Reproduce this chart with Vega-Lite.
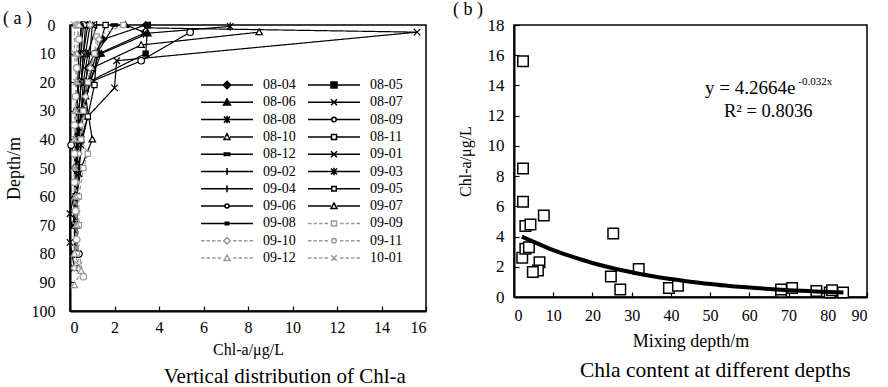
{
  "$schema": "https://vega.github.io/schema/vega-lite/v6.json",
  "background": "white",
  "padding": {"left": 2, "top": 0, "right": 5, "bottom": 0},
  "config": {
    "font": "Liberation Serif",
    "view": {"stroke": "#000", "strokeWidth": 1.5},
    "axis": {"grid": false, "domainColor": "#000", "domainWidth": 2, "tickColor": "#000", "tickWidth": 1.2, "tickSize": -5, "labelOverlap": false, "format": "d",
      "labelColor": "#000", "titleColor": "#000", "labelFont": "Liberation Serif", "titleFont": "Liberation Serif",
      "labelFontSize": 16, "titleFontSize": 17, "titleFontWeight": "normal"},
    "title": {"font": "Liberation Serif", "fontWeight": "normal", "color": "#000"}
  },
  "datasets": {
    "profiles": [
      {"s":"08-04","c":3.4,"d":0},{"s":"08-04","c":1.5,"d":5},{"s":"08-04","c":1.1,"d":10},{"s":"08-04","c":0.8,"d":15},{"s":"08-04","c":0.7,"d":20},{"s":"08-04","c":0.5,"d":30},{"s":"08-04","c":0.35,"d":40},{"s":"08-04","c":0.3,"d":50},{"s":"08-04","c":0.25,"d":60},{"s":"08-04","c":0.2,"d":70},
      {"s":"08-05","c":3.5,"d":0},{"s":"08-05","c":3.4,"d":10},{"s":"08-05","c":0.8,"d":20},{"s":"08-05","c":0.6,"d":30},{"s":"08-05","c":0.4,"d":40},{"s":"08-05","c":0.35,"d":50},{"s":"08-05","c":0.3,"d":60},{"s":"08-05","c":0.25,"d":70},
      {"s":"08-06","c":2.5,"d":0},{"s":"08-06","c":3.5,"d":3},{"s":"08-06","c":1.4,"d":10},{"s":"08-06","c":0.9,"d":20},{"s":"08-06","c":0.6,"d":30},{"s":"08-06","c":0.4,"d":40},{"s":"08-06","c":0.3,"d":50},{"s":"08-06","c":0.3,"d":60},{"s":"08-06","c":0.2,"d":70},
      {"s":"08-07","c":3.4,"d":1},{"s":"08-07","c":15.6,"d":2.5},{"s":"08-07","c":2.1,"d":12.5},{"s":"08-07","c":2.0,"d":22},{"s":"08-07","c":0.8,"d":32},{"s":"08-07","c":0.5,"d":42},{"s":"08-07","c":0.4,"d":52},{"s":"08-07","c":0.0,"d":66},{"s":"08-07","c":0.0,"d":76},{"s":"08-07","c":0.2,"d":85},
      {"s":"08-08","c":7.2,"d":0.5},{"s":"08-08","c":3.3,"d":3},{"s":"08-08","c":1.3,"d":10},{"s":"08-08","c":0.9,"d":20},{"s":"08-08","c":0.6,"d":30},{"s":"08-08","c":0.5,"d":40},{"s":"08-08","c":0.4,"d":50},{"s":"08-08","c":0.3,"d":60},{"s":"08-08","c":0.3,"d":70},{"s":"08-08","c":0.3,"d":80},
      {"s":"08-09","c":5.4,"d":2.5},{"s":"08-09","c":3.2,"d":12.5},{"s":"08-09","c":0.9,"d":20},{"s":"08-09","c":0.6,"d":30},{"s":"08-09","c":0.05,"d":42},{"s":"08-09","c":0.3,"d":50},{"s":"08-09","c":0.3,"d":60},{"s":"08-09","c":0.2,"d":70},
      {"s":"08-10","c":8.5,"d":2.5},{"s":"08-10","c":3.2,"d":7},{"s":"08-10","c":1.0,"d":15},{"s":"08-10","c":0.7,"d":25},{"s":"08-10","c":1.0,"d":40},{"s":"08-10","c":0.5,"d":50},{"s":"08-10","c":0.3,"d":60},{"s":"08-10","c":0.3,"d":70},{"s":"08-10","c":0.2,"d":80},
      {"s":"08-11","c":1.6,"d":0},{"s":"08-11","c":1.2,"d":10},{"s":"08-11","c":1.1,"d":21},{"s":"08-11","c":0.8,"d":32},{"s":"08-11","c":0.5,"d":40},{"s":"08-11","c":0.4,"d":50},{"s":"08-11","c":0.3,"d":60},{"s":"08-11","c":0.3,"d":70},{"s":"08-11","c":0.2,"d":80},
      {"s":"08-12","c":2.0,"d":0},{"s":"08-12","c":1.2,"d":10},{"s":"08-12","c":0.8,"d":20},{"s":"08-12","c":0.5,"d":30},{"s":"08-12","c":0.4,"d":40},{"s":"08-12","c":0.3,"d":50},{"s":"08-12","c":0.3,"d":60},{"s":"08-12","c":0.2,"d":70},
      {"s":"09-01","c":1.0,"d":0},{"s":"09-01","c":0.9,"d":10},{"s":"09-01","c":0.7,"d":20},{"s":"09-01","c":0.5,"d":30},{"s":"09-01","c":0.4,"d":40},{"s":"09-01","c":0.3,"d":50},{"s":"09-01","c":0.3,"d":60},{"s":"09-01","c":0.2,"d":70},{"s":"09-01","c":0.3,"d":80},
      {"s":"09-02","c":1.2,"d":0},{"s":"09-02","c":0.8,"d":10},{"s":"09-02","c":0.6,"d":20},{"s":"09-02","c":0.5,"d":30},{"s":"09-02","c":0.4,"d":40},{"s":"09-02","c":0.35,"d":50},{"s":"09-02","c":0.3,"d":60},{"s":"09-02","c":0.25,"d":70},{"s":"09-02","c":0.3,"d":80},
      {"s":"09-03","c":0.9,"d":0},{"s":"09-03","c":0.7,"d":10},{"s":"09-03","c":0.5,"d":20},{"s":"09-03","c":0.4,"d":30},{"s":"09-03","c":0.3,"d":40},{"s":"09-03","c":0.3,"d":50},{"s":"09-03","c":0.25,"d":60},{"s":"09-03","c":0.2,"d":70},{"s":"09-03","c":0.2,"d":80},
      {"s":"09-04","c":0.8,"d":0},{"s":"09-04","c":0.6,"d":10},{"s":"09-04","c":0.5,"d":20},{"s":"09-04","c":0.4,"d":30},{"s":"09-04","c":0.35,"d":40},{"s":"09-04","c":0.3,"d":50},{"s":"09-04","c":0.3,"d":60},{"s":"09-04","c":0.3,"d":70},{"s":"09-04","c":0.35,"d":80},
      {"s":"09-05","c":0.7,"d":0},{"s":"09-05","c":0.6,"d":10},{"s":"09-05","c":0.5,"d":20},{"s":"09-05","c":0.4,"d":30},{"s":"09-05","c":0.35,"d":40},{"s":"09-05","c":0.3,"d":50},{"s":"09-05","c":0.3,"d":60},{"s":"09-05","c":0.25,"d":70},
      {"s":"09-06","c":0.6,"d":0},{"s":"09-06","c":0.5,"d":10},{"s":"09-06","c":0.4,"d":20},{"s":"09-06","c":0.3,"d":30},{"s":"09-06","c":0.3,"d":40},{"s":"09-06","c":0.25,"d":50},{"s":"09-06","c":0.3,"d":60},{"s":"09-06","c":0.2,"d":70},{"s":"09-06","c":0.4,"d":80},
      {"s":"09-07","c":0.5,"d":0},{"s":"09-07","c":0.5,"d":10},{"s":"09-07","c":0.4,"d":20},{"s":"09-07","c":0.3,"d":30},{"s":"09-07","c":0.3,"d":40},{"s":"09-07","c":0.25,"d":50},{"s":"09-07","c":0.2,"d":60},{"s":"09-07","c":0.2,"d":70},
      {"s":"09-08","c":0.5,"d":0},{"s":"09-08","c":0.4,"d":10},{"s":"09-08","c":0.35,"d":20},{"s":"09-08","c":0.3,"d":30},{"s":"09-08","c":0.25,"d":40},{"s":"09-08","c":0.2,"d":50},{"s":"09-08","c":0.2,"d":60},{"s":"09-08","c":0.15,"d":70},
      {"s":"09-09","c":2.4,"d":0},{"s":"09-09","c":1.2,"d":4},{"s":"09-09","c":1.1,"d":10},{"s":"09-09","c":0.8,"d":20},{"s":"09-09","c":0.6,"d":30},{"s":"09-09","c":0.5,"d":40},{"s":"09-09","c":0.8,"d":45},{"s":"09-09","c":0.6,"d":50},{"s":"09-09","c":0.4,"d":60},{"s":"09-09","c":0.4,"d":70},{"s":"09-09","c":0.3,"d":80},
      {"s":"09-10","c":0.9,"d":0},{"s":"09-10","c":1.3,"d":5},{"s":"09-10","c":0.9,"d":15},{"s":"09-10","c":0.7,"d":25},{"s":"09-10","c":0.5,"d":35},{"s":"09-10","c":0.4,"d":45},{"s":"09-10","c":0.3,"d":55},{"s":"09-10","c":0.3,"d":65},{"s":"09-10","c":0.3,"d":75},{"s":"09-10","c":0.2,"d":85},
      {"s":"09-11","c":0.3,"d":0},{"s":"09-11","c":0.4,"d":5},{"s":"09-11","c":0.3,"d":15},{"s":"09-11","c":0.25,"d":25},{"s":"09-11","c":0.2,"d":35},{"s":"09-11","c":0.2,"d":45},{"s":"09-11","c":0.2,"d":55},{"s":"09-11","c":0.25,"d":65},{"s":"09-11","c":0.3,"d":75},{"s":"09-11","c":0.6,"d":88},
      {"s":"09-12","c":0.4,"d":0},{"s":"09-12","c":0.3,"d":10},{"s":"09-12","c":0.3,"d":20},{"s":"09-12","c":0.25,"d":30},{"s":"09-12","c":0.2,"d":40},{"s":"09-12","c":0.2,"d":50},{"s":"09-12","c":0.25,"d":60},{"s":"09-12","c":0.3,"d":70},{"s":"09-12","c":0.2,"d":80},{"s":"09-12","c":0.5,"d":86},{"s":"09-12","c":0.2,"d":91},
      {"s":"10-01","c":0.2,"d":0},{"s":"10-01","c":0.2,"d":10},{"s":"10-01","c":0.3,"d":20},{"s":"10-01","c":0.3,"d":30},{"s":"10-01","c":0.25,"d":40},{"s":"10-01","c":0.2,"d":50},{"s":"10-01","c":0.2,"d":60},{"s":"10-01","c":0.25,"d":70},{"s":"10-01","c":0.3,"d":78},{"s":"10-01","c":0.4,"d":84}
    ],
    "mix": [
      {"x":2.3,"y":15.6},{"x":2.3,"y":8.5},{"x":2.3,"y":6.3},{"x":2.9,"y":4.7},{"x":4.2,"y":4.8},{"x":7.6,"y":5.4},{"x":25.3,"y":4.2},
      {"x":2.1,"y":2.6},{"x":2.9,"y":3.2},{"x":3.8,"y":3.3},{"x":6.5,"y":2.3},{"x":6.1,"y":1.75},{"x":4.8,"y":1.65},{"x":24.7,"y":1.35},
      {"x":27.1,"y":0.5},{"x":31.8,"y":1.85},{"x":39.5,"y":0.6},{"x":41.8,"y":0.75},{"x":68.1,"y":0.35},{"x":68.1,"y":0.5},{"x":70.9,"y":0.6},
      {"x":77.1,"y":0.4},{"x":80.5,"y":0.3},{"x":81.1,"y":0.45},{"x":83.9,"y":0.3}
    ],
    "trend": [
      {"x":2,"y":4.0},{"x":5,"y":3.65},{"x":10,"y":3.1},{"x":15,"y":2.65},{"x":20,"y":2.25},{"x":25,"y":1.92},{"x":30,"y":1.64},{"x":35,"y":1.39},{"x":40,"y":1.19},
      {"x":45,"y":1.01},{"x":50,"y":0.86},{"x":55,"y":0.73},{"x":60,"y":0.63},{"x":65,"y":0.53},{"x":70,"y":0.45},{"x":75,"y":0.39},{"x":80,"y":0.33},{"x":84,"y":0.29}
    ],
    "notes": [{"eq": "y = 4.2664e", "ex": "-0.032x", "r2": "R² = 0.8036"}]
  },
  "hconcat": [
    {
      "title": {"text": "Vertical distribution of Chl-a", "orient": "bottom", "anchor": "middle", "fontSize": 21, "offset": 8, "dx": 70},
      "hconcat": [
        {
          "title": {"text": "( a )", "orient": "top", "anchor": "start", "fontSize": 18, "offset": -11, "dx": -2},
          "width": 356, "height": 286,
          "data": {"name": "profiles"},
          "resolve": {"scale": {"shape": "independent", "fill": "independent", "stroke": "independent", "size": "independent", "strokeDash": "independent"}},
          "layer": [
            {
              "mark": {"type": "line", "strokeWidth": 1.2},
              "encoding": {
                "x": {"field": "c", "type": "quantitative", "scale": {"domain": [0, 16]}, "axis": {"values": [0,2,4,6,8,10,12,14,16], "format": "d", "tickCount": 30, "labelOverlap": false, "title": "Chl-a/μg/L", "titleFontSize": 16, "labelPadding": 13, "titlePadding": 6}},
                "y": {"field": "d", "type": "quantitative", "scale": {"domain": [0, 100], "reverse": true}, "axis": {"values": [0,10,20,30,40,50,60,70,80,90,100], "format": "d", "tickCount": 30, "labelOverlap": false, "title": "Depth/m", "titleFontSize": 18, "labelPadding": 20, "titlePadding": 8}},
                "order": {"field": "d"},
                "stroke": {"field": "s", "type": "nominal", "legend": null,
                  "scale": {"domain": ["08-04","08-05","08-06","08-07","08-08","08-09","08-10","08-11","08-12","09-01","09-02","09-03","09-04","09-05","09-06","09-07","09-08","09-09","09-10","09-11","09-12","10-01"],
                    "range": ["#000","#000","#000","#000","#000","#000","#000","#000","#000","#000","#000","#000","#000","#000","#000","#000","#000","#999","#999","#999","#999","#999"]}},
                "strokeDash": {"field": "s", "type": "nominal", "legend": null,
                  "scale": {"domain": ["08-04","08-05","08-06","08-07","08-08","08-09","08-10","08-11","08-12","09-01","09-02","09-03","09-04","09-05","09-06","09-07","09-08","09-09","09-10","09-11","09-12","10-01"],
                    "range": [[1,0],[1,0],[1,0],[1,0],[1,0],[1,0],[1,0],[1,0],[1,0],[1,0],[1,0],[1,0],[1,0],[1,0],[1,0],[1,0],[1,0],[4,2.5],[4,2.5],[4,2.5],[4,2.5],[4,2.5]]}}
              }
            },
            {
              "mark": {"type": "point", "strokeWidth": 1.2, "opacity": 1},
              "encoding": {
                "x": {"field": "c", "type": "quantitative"},
                "y": {"field": "d", "type": "quantitative"},
                "shape": {"field": "s", "type": "nominal", "legend": null,
                  "scale": {"domain": ["08-04","08-05","08-06","08-07","08-08","08-09","08-10","08-11","08-12","09-01","09-02","09-03","09-04","09-05","09-06","09-07","09-08","09-09","09-10","09-11","09-12","10-01"],
                    "range": ["M0,-1L1,0L0,1L-1,0Z","M-0.8,-0.8H0.8V0.8H-0.8Z","M0,-1L1,0.75H-1Z","M-1,-1L1,1M-1,1L1,-1","M-1,-1L1,1M-1,1L1,-1M0,-1.3V1.3","circle","M0,-1L1,0.75H-1Z","M-0.8,-0.8H0.8V0.8H-0.8Z","M-1,-0.35H1V0.35H-1Z","M-1,-1L1,1M-1,1L1,-1","M-1,0H1M0,-1.2V1.2","M-1,-1L1,1M-1,1L1,-1M0,-1.3V1.3","M-1,0H1M0,-1.2V1.2","M-0.8,-0.8H0.8V0.8H-0.8Z","circle","M0,-1L1,0.75H-1Z","M-0.6,-0.35H0.6V0.35H-0.6Z","M-0.8,-0.8H0.8V0.8H-0.8Z","M0,-1L1,0L0,1L-1,0Z","circle","M0,-1L1,0.75H-1Z","M-1,-1L1,1M-1,1L1,-1"]}},
                "stroke": {"field": "s", "type": "nominal", "legend": null,
                  "scale": {"domain": ["08-04","08-05","08-06","08-07","08-08","08-09","08-10","08-11","08-12","09-01","09-02","09-03","09-04","09-05","09-06","09-07","09-08","09-09","09-10","09-11","09-12","10-01"],
                    "range": ["#000","#000","#000","#000","#000","#000","#000","#000","#000","#000","#000","#000","#000","#000","#000","#000","#000","#999","#999","#999","#999","#999"]}},
                "fill": {"field": "s", "type": "nominal", "legend": null,
                  "scale": {"domain": ["08-04","08-05","08-06","08-07","08-08","08-09","08-10","08-11","08-12","09-01","09-02","09-03","09-04","09-05","09-06","09-07","09-08","09-09","09-10","09-11","09-12","10-01"],
                    "range": ["#000","#000","#000","#fff","#fff","#fff","#fff","#fff","#000","#fff","#fff","#fff","#fff","#fff","#fff","#fff","#000","#fff","#fff","#fff","#fff","#fff"]}},
                "size": {"field": "s", "type": "nominal", "legend": null,
                  "scale": {"domain": ["08-04","08-05","08-06","08-07","08-08","08-09","08-10","08-11","08-12","09-01","09-02","09-03","09-04","09-05","09-06","09-07","09-08","09-09","09-10","09-11","09-12","10-01"],
                    "range": [42,42,42,64,64,64,64,49,42,49,49,49,49,42,36,42,36,100,100,100,100,81]}}
              }
            },
            {
              "transform": [{"filter": "false"}],
              "mark": {"type": "point", "strokeWidth": 1.5, "opacity": 1},
              "encoding": {
                "shape": {"field": "s", "type": "nominal",
                  "legend": {"orient": "none", "legendX": 150, "legendY": 53, "columns": 2, "direction": "horizontal", "title": null, "symbolSize": 100, "symbolStrokeWidth": 1.5,
                    "labelFont": "Liberation Serif", "labelFontSize": 14, "labelColor": "#000", "labelOffset": 29, "columnPadding": 9, "rowPadding": 3.3, "padding": 0, "symbolLimit": 30},
                  "scale": {"domain": ["08-04","08-05","08-06","08-07","08-08","08-09","08-10","08-11","08-12","09-01","09-02","09-03","09-04","09-05","09-06","09-07","09-08","09-09","09-10","09-11","09-12","10-01"],
                    "range": [
                      "M-5.2,0H5.2M0,-0.75L0.75,0L0,0.75L-0.75,0Z",
                      "M-5.2,0H5.2M-0.6,-0.6H0.6V0.6H-0.6Z",
                      "M-5.2,0H5.2M0,-0.7L0.7,0.55H-0.7Z",
                      "M-5.2,0H5.2M-0.6,-0.6L0.6,0.6M-0.6,0.6L0.6,-0.6",
                      "M-5.2,0H5.2M-0.6,-0.6L0.6,0.6M-0.6,0.6L0.6,-0.6M0,-0.75V0.75",
                      "M-5.2,0H-0.5M0.5,0H5.2M0.45,0A0.45,0.45,0,1,1,-0.45,0A0.45,0.45,0,1,1,0.45,0Z",
                      "M-5.2,0H-0.6M0.6,0H5.2M0,-0.6L0.6,0.5H-0.6Z",
                      "M-5.2,0H-0.55M0.55,0H5.2M-0.5,-0.5H0.5V0.5H-0.5Z",
                      "M-5.2,0H5.2M-0.55,-0.25H0.55V0.25H-0.55Z",
                      "M-5.2,0H5.2M-0.6,-0.6L0.6,0.6M-0.6,0.6L0.6,-0.6",
                      "M-5.2,0H5.2M0,-0.7V0.7",
                      "M-5.2,0H5.2M-0.6,-0.6L0.6,0.6M-0.6,0.6L0.6,-0.6M0,-0.75V0.75",
                      "M-5.2,0H5.2M0,-0.7V0.7",
                      "M-5.2,0H-0.5M0.5,0H5.2M-0.45,-0.45H0.45V0.45H-0.45Z",
                      "M-5.2,0H-0.45M0.45,0H5.2M0.4,0A0.4,0.4,0,1,1,-0.4,0A0.4,0.4,0,1,1,0.4,0Z",
                      "M-5.2,0H-0.6M0.6,0H5.2M0,-0.6L0.6,0.5H-0.6Z",
                      "M-5.2,0H5.2M-0.35,-0.25H0.35V0.25H-0.35Z",
                      "M-5.2,0H-4.5M-4.1,0H-3.4M-3,0H-2.3M-1.9,0H-1.2M1.2,0H1.9M2.3,0H3M3.4,0H4.1M4.5,0H5.2M-0.5,-0.5H0.5V0.5H-0.5Z",
                      "M-5.2,0H-4.5M-4.1,0H-3.4M-3,0H-2.3M-1.9,0H-1.2M1.2,0H1.9M2.3,0H3M3.4,0H4.1M4.5,0H5.2M0,-0.65L0.65,0L0,0.65L-0.65,0Z",
                      "M-5.2,0H-4.5M-4.1,0H-3.4M-3,0H-2.3M-1.9,0H-1.2M1.2,0H1.9M2.3,0H3M3.4,0H4.1M4.5,0H5.2M0.45,0A0.45,0.45,0,1,1,-0.45,0A0.45,0.45,0,1,1,0.45,0Z",
                      "M-5.2,0H-4.5M-4.1,0H-3.4M-3,0H-2.3M-1.9,0H-1.2M1.2,0H1.9M2.3,0H3M3.4,0H4.1M4.5,0H5.2M0,-0.6L0.6,0.5H-0.6Z",
                      "M-5.2,0H-4.5M-4.1,0H-3.4M-3,0H-2.3M-1.9,0H-1.2M1.2,0H1.9M2.3,0H3M3.4,0H4.1M4.5,0H5.2M-0.55,-0.55L0.55,0.55M-0.55,0.55L0.55,-0.55"
                    ]}},
                "stroke": {"field": "s", "type": "nominal",
                  "scale": {"domain": ["08-04","08-05","08-06","08-07","08-08","08-09","08-10","08-11","08-12","09-01","09-02","09-03","09-04","09-05","09-06","09-07","09-08","09-09","09-10","09-11","09-12","10-01"],
                    "range": ["#000","#000","#000","#000","#000","#000","#000","#000","#000","#000","#000","#000","#000","#000","#000","#000","#000","#999","#999","#999","#999","#999"]}},
                "fill": {"field": "s", "type": "nominal",
                  "scale": {"domain": ["08-04","08-05","08-06","08-07","08-08","08-09","08-10","08-11","08-12","09-01","09-02","09-03","09-04","09-05","09-06","09-07","09-08","09-09","09-10","09-11","09-12","10-01"],
                    "range": ["#000","#000","#000","#fff","#fff","#fff","#fff","#fff","#000","#fff","#fff","#fff","#fff","#fff","#fff","#fff","#000","#fff","#fff","#fff","#fff","#fff"]}}
              }
            }
          ]
        }
      ]
    },
    {
      "title": {"text": "Chla content at different depths", "orient": "bottom", "anchor": "middle", "fontSize": 21.5, "offset": 9, "dx": 55},
      "hconcat": [
        {
          "title": {"text": "( b )", "orient": "top", "anchor": "start", "fontSize": 18, "offset": -3, "dx": -4},
          "width": 353, "height": 272,
          "layer": [
            {
              "data": {"name": "mix"},
              "mark": {"type": "point", "shape": "square", "size": 110, "stroke": "#000", "strokeWidth": 1.5, "fill": "#fff", "filled": false, "opacity": 1},
              "encoding": {
                "x": {"field": "x", "type": "quantitative", "scale": {"domain": [0, 90]}, "axis": {"values": [0,10,20,30,40,50,60,70,80,90], "format": "d", "tickCount": 30, "labelOverlap": false, "title": "Mixing depth/m", "titleFontSize": 18, "labelPadding": 15, "titlePadding": 9}},
                "y": {"field": "y", "type": "quantitative", "scale": {"domain": [0, 18]}, "axis": {"values": [0,2,4,6,8,10,12,14,16,18], "format": "d", "tickCount": 30, "labelOverlap": false, "title": "Chl-a/μg/L", "titleFontSize": 16, "labelFontSize": 17, "labelPadding": 15, "titlePadding": 14}}
              }
            },
            {
              "data": {"name": "trend"},
              "mark": {"type": "line", "stroke": "#000", "strokeWidth": 4, "interpolate": "monotone"},
              "encoding": {
                "x": {"field": "x", "type": "quantitative"},
                "y": {"field": "y", "type": "quantitative"}
              }
            },
            {
              "data": {"name": "notes"},
              "mark": {"type": "text", "align": "left", "baseline": "middle", "fontSize": 19, "font": "Liberation Serif", "color": "#000"},
              "encoding": {"text": {"field": "eq"}, "x": {"datum": 48.7}, "y": {"datum": 13.8}}
            },
            {
              "data": {"name": "notes"},
              "mark": {"type": "text", "align": "left", "baseline": "middle", "fontSize": 11, "font": "Liberation Serif", "color": "#000"},
              "encoding": {"text": {"field": "ex"}, "x": {"datum": 72.5}, "y": {"datum": 14.25}}
            },
            {
              "data": {"name": "notes"},
              "mark": {"type": "text", "align": "center", "baseline": "middle", "fontSize": 18.5, "font": "Liberation Serif", "color": "#000"},
              "encoding": {"text": {"field": "r2"}, "x": {"datum": 64.8}, "y": {"datum": 12.3}}
            }
          ]
        }
      ]
    }
  ],
  "spacing": 24
}
